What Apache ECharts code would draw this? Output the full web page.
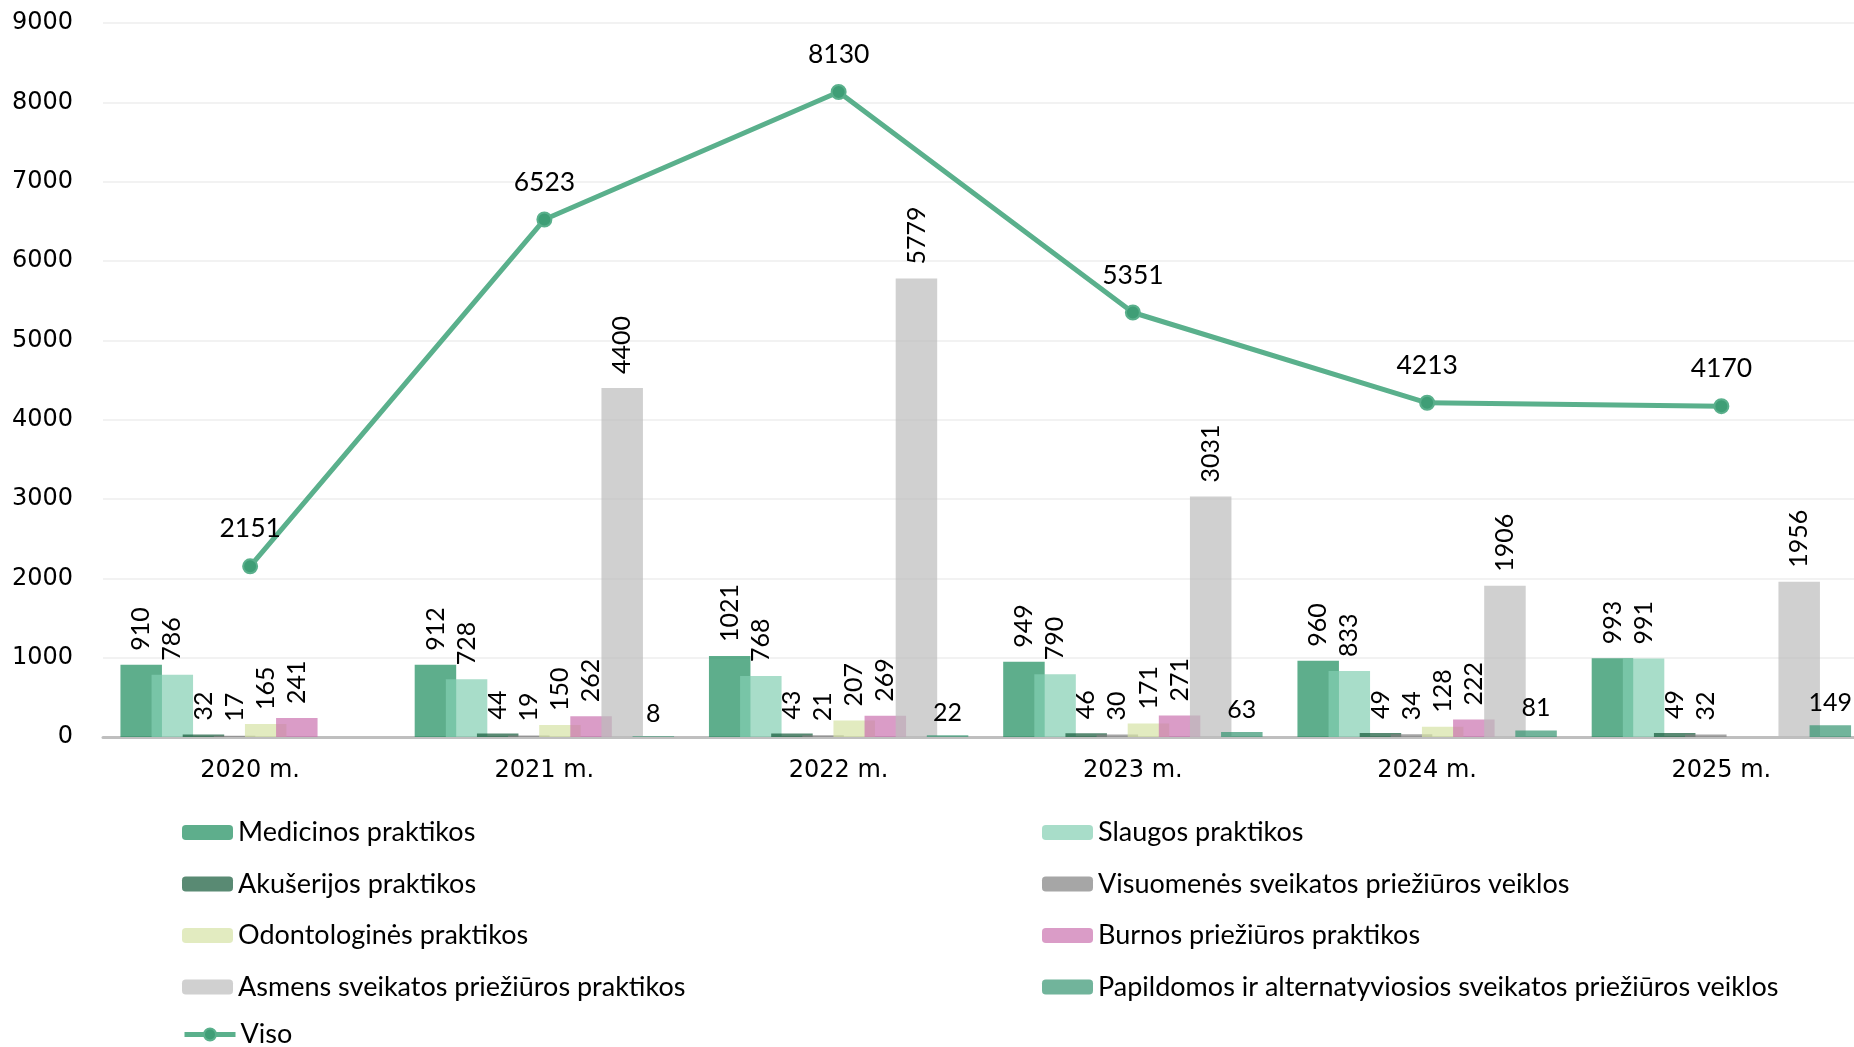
<!DOCTYPE html>
<html lang="lt">
<head>
    <meta charset="UTF-8">
    <title>Praktikos pagal metus</title>
    <script src="https://cdn.jsdelivr.net/npm/echarts@6/dist/echarts.min.js"></script>
    <style>
        html, body { margin: 0; padding: 0; background: #fff; }
        #chart { width: 1854px; height: 1047px; }
    </style>
</head>
<body>
<div id="chart"></div>
<script>
    // duomenys
    var years = ['2020 m.', '2021 m.', '2022 m.', '2023 m.', '2024 m.', '2025 m.'];
    var medicinos = [910, 912, 1021, 949, 960, 993];
    var slaugos = [786, 728, 768, 790, 833, 991];
    var akuserijos = [32, 44, 43, 46, 49, 49];
    var visuomenes = [17, 19, 21, 30, 34, 32];
    var odontologines = [165, 150, 207, 171, 128, null];
    var burnos = [241, 262, 269, 271, 222, null];
    var asmens = [null, 4400, 5779, 3031, 1906, 1956];
    var papildomos = [null, 8, 22, 63, 81, 149];
    var viso = [2151, 6523, 8130, 5351, 4213, 4170];

    var labelFont = 'Lato, "Noto Sans", sans-serif';
    var axisFont = '"DejaVu Sans", sans-serif';

    function barSeries(name, data, color, rotated) {
        var label = {
            show: true,
            position: 'top',
            color: '#000',
            fontFamily: labelFont,
            fontSize: 25
        };
        if (rotated) {
            label.rotate = 90;
            label.align = 'left';
            label.verticalAlign = 'middle';
            label.distance = 14;
        } else {
            label.distance = 10;
        }
        return {
            name: name,
            type: 'bar',
            data: data,
            barWidth: 41.5,
            barGap: '-25%',
            itemStyle: { color: color },
            label: label,
            emphasis: { disabled: true }
        };
    }

    var chart = echarts.init(document.getElementById('chart'));

    var legendText = { fontFamily: labelFont, fontSize: 27, color: '#000', lineHeight: 26 };

    function legendBlock(left, top, names) {
        return {
            orient: 'vertical',
            left: left,
            top: top,
            padding: 0,
            itemWidth: 51,
            itemHeight: 15,
            itemGap: 24.5,
            textStyle: legendText,
            data: names
        };
    }

    var visoLegend = legendBlock(182, 1021, ['Viso']);
    visoLegend.lineStyle = { width: 5 };

    var options = {
        animation: false,
        grid: { left: 103, width: 1765.5, top: 23, bottom: 310, outerBoundsMode: 'none' },
        legend: [
            legendBlock(182, 819, ['Medicinos praktikos', 'Akušerijos praktikos', 'Odontologinės praktikos',
                'Asmens sveikatos priežiūros praktikos']),
            legendBlock(1042, 819, ['Slaugos praktikos', 'Visuomenės sveikatos priežiūros veiklos',
                'Burnos priežiūros praktikos', 'Papildomos ir alternatyviosios sveikatos priežiūros veiklos']),
            visoLegend
        ],
        xAxis: {
            type: 'category',
            data: years,
            axisTick: { show: false },
            axisLine: { lineStyle: { color: '#bfbfbf', width: 3 } },
            axisLabel: { color: '#000', fontFamily: axisFont, fontSize: 24, margin: 22 }
        },
        yAxis: {
            type: 'value',
            min: 0,
            max: 9000,
            interval: 1000,
            axisLine: { show: false },
            axisTick: { show: false },
            splitLine: { lineStyle: { color: '#eeeeee', width: 1.5 } },
            axisLabel: {
                color: '#000', fontFamily: axisFont, fontSize: 24, margin: 30,
                formatter: function (v) { return String(v); }
            }
        },
        series: [
            barSeries('Medicinos praktikos', medicinos, 'rgba(26,139,91,0.7)', true),
            barSeries('Slaugos praktikos', slaugos, 'rgba(131,206,178,0.7)', true),
            barSeries('Akušerijos praktikos', akuserijos, 'rgba(19,88,56,0.7)', true),
            barSeries('Visuomenės sveikatos priežiūros veiklos', visuomenes, 'rgba(128,128,128,0.7)', true),
            barSeries('Odontologinės praktikos', odontologines, 'rgba(214,226,165,0.7)', true),
            barSeries('Burnos priežiūros praktikos', burnos, 'rgba(202,114,175,0.7)', true),
            barSeries('Asmens sveikatos priežiūros praktikos', asmens, 'rgba(188,188,188,0.7)', true),
            barSeries('Papildomos ir alternatyviosios sveikatos priežiūros veiklos', papildomos, 'rgba(53,148,112,0.7)', false),
            {
                name: 'Viso',
                type: 'line',
                data: viso,
                symbol: 'circle',
                symbolSize: 14,
                lineStyle: { color: '#5ab08c', width: 5 },
                itemStyle: { color: '#3f9e76', borderColor: '#5ab08c', borderWidth: 2 },
                label: {
                    show: true,
                    position: 'top',
                    distance: 16,
                    color: '#000',
                    fontFamily: labelFont,
                    fontSize: 26.5
                },
                emphasis: { disabled: true },
                z: 5
            }
        ]
    };

    chart.setOption(options);
</script>
</body>
</html>
